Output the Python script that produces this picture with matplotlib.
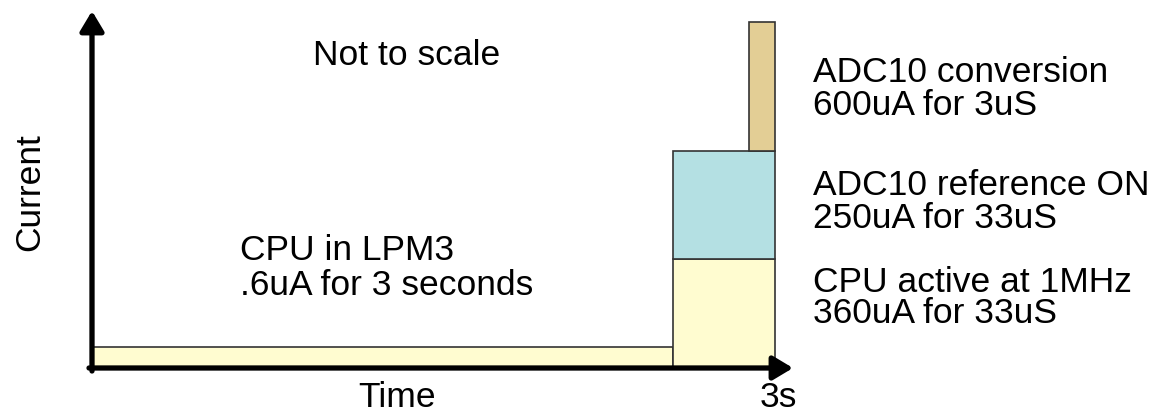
import matplotlib.pyplot as plt

# schematic chart, not to scale: widths/heights are drawing units
phases = ["CPU in LPM3", "CPU active at 1MHz", "ADC10 reference ON", "ADC10 conversion"]
details = [".6uA for 3 seconds", "360uA for 33uS", "250uA for 33uS", "600uA for 3uS"]
durations = [581, 102, 102, 26]
levels = [21, 109, 108, 129]
colors = ["#fffcd0", "#fffcd0", "#b4e0e3", "#e3ce95"]

plt.rcParams['font.family'] = ['Liberation Sans', 'DejaVu Sans']
fs = 25.5

fig = plt.figure(figsize=(11.72, 4.15), dpi=100)
ax = fig.add_axes([92 / 1172, 47 / 415, 701 / 1172, 357 / 415])
ax.set_xlim(0, 701)
ax.set_ylim(0, 357)
ax.axis('off')

# LPM3 sits at the origin, the active phases stack at the end of it
active_start = durations[0]
active_end = active_start + durations[1]
starts = [0, active_start, active_start, active_end - durations[3]]
bottoms = [0, 0, levels[1], levels[1] + levels[2]]
for x0, w, b, h, c in zip(starts, durations, bottoms, levels, colors):
    ax.bar(x0, h, width=w, bottom=b, align='edge', color=c,
           edgecolor='#333333', linewidth=1.2, zorder=2)

# axes with arrow heads
arrow = dict(arrowstyle='-|>,head_length=0.6,head_width=0.36', lw=3.8,
             color='black', shrinkA=0, shrinkB=0, mutation_scale=20)
ax.annotate('', xy=(0, 357), xytext=(0, -3), arrowprops=arrow,
            annotation_clip=False, zorder=5)
ax.annotate('', xy=(701, 0), xytext=(-3, 0), arrowprops=arrow,
            annotation_clip=False, zorder=5)

ax.text(221, 303, "Not to scale", fontsize=fs, va='baseline')
ax.text(148, 108, phases[0], fontsize=fs, va='baseline')
ax.text(148, 73, details[0], fontsize=fs, va='baseline')

right_rows = [(76, 45), (173, 140), (286, 253)]
for (y1, y2), name, det in zip(right_rows, phases[1:], details[1:]):
    ax.text(721, y1, name, fontsize=fs, va='baseline')
    ax.text(721, y2, det, fontsize=fs, va='baseline')

ax.text(266, -39, "Time", fontsize=fs, va='baseline', clip_on=False)
ax.text(668, -39, "3s", fontsize=fs, va='baseline', clip_on=False)
ax.text(-62, 176, "Current", fontsize=fs, rotation=90,
        ha='center', va='center', clip_on=False)

fig.savefig('out.png', dpi=100)
